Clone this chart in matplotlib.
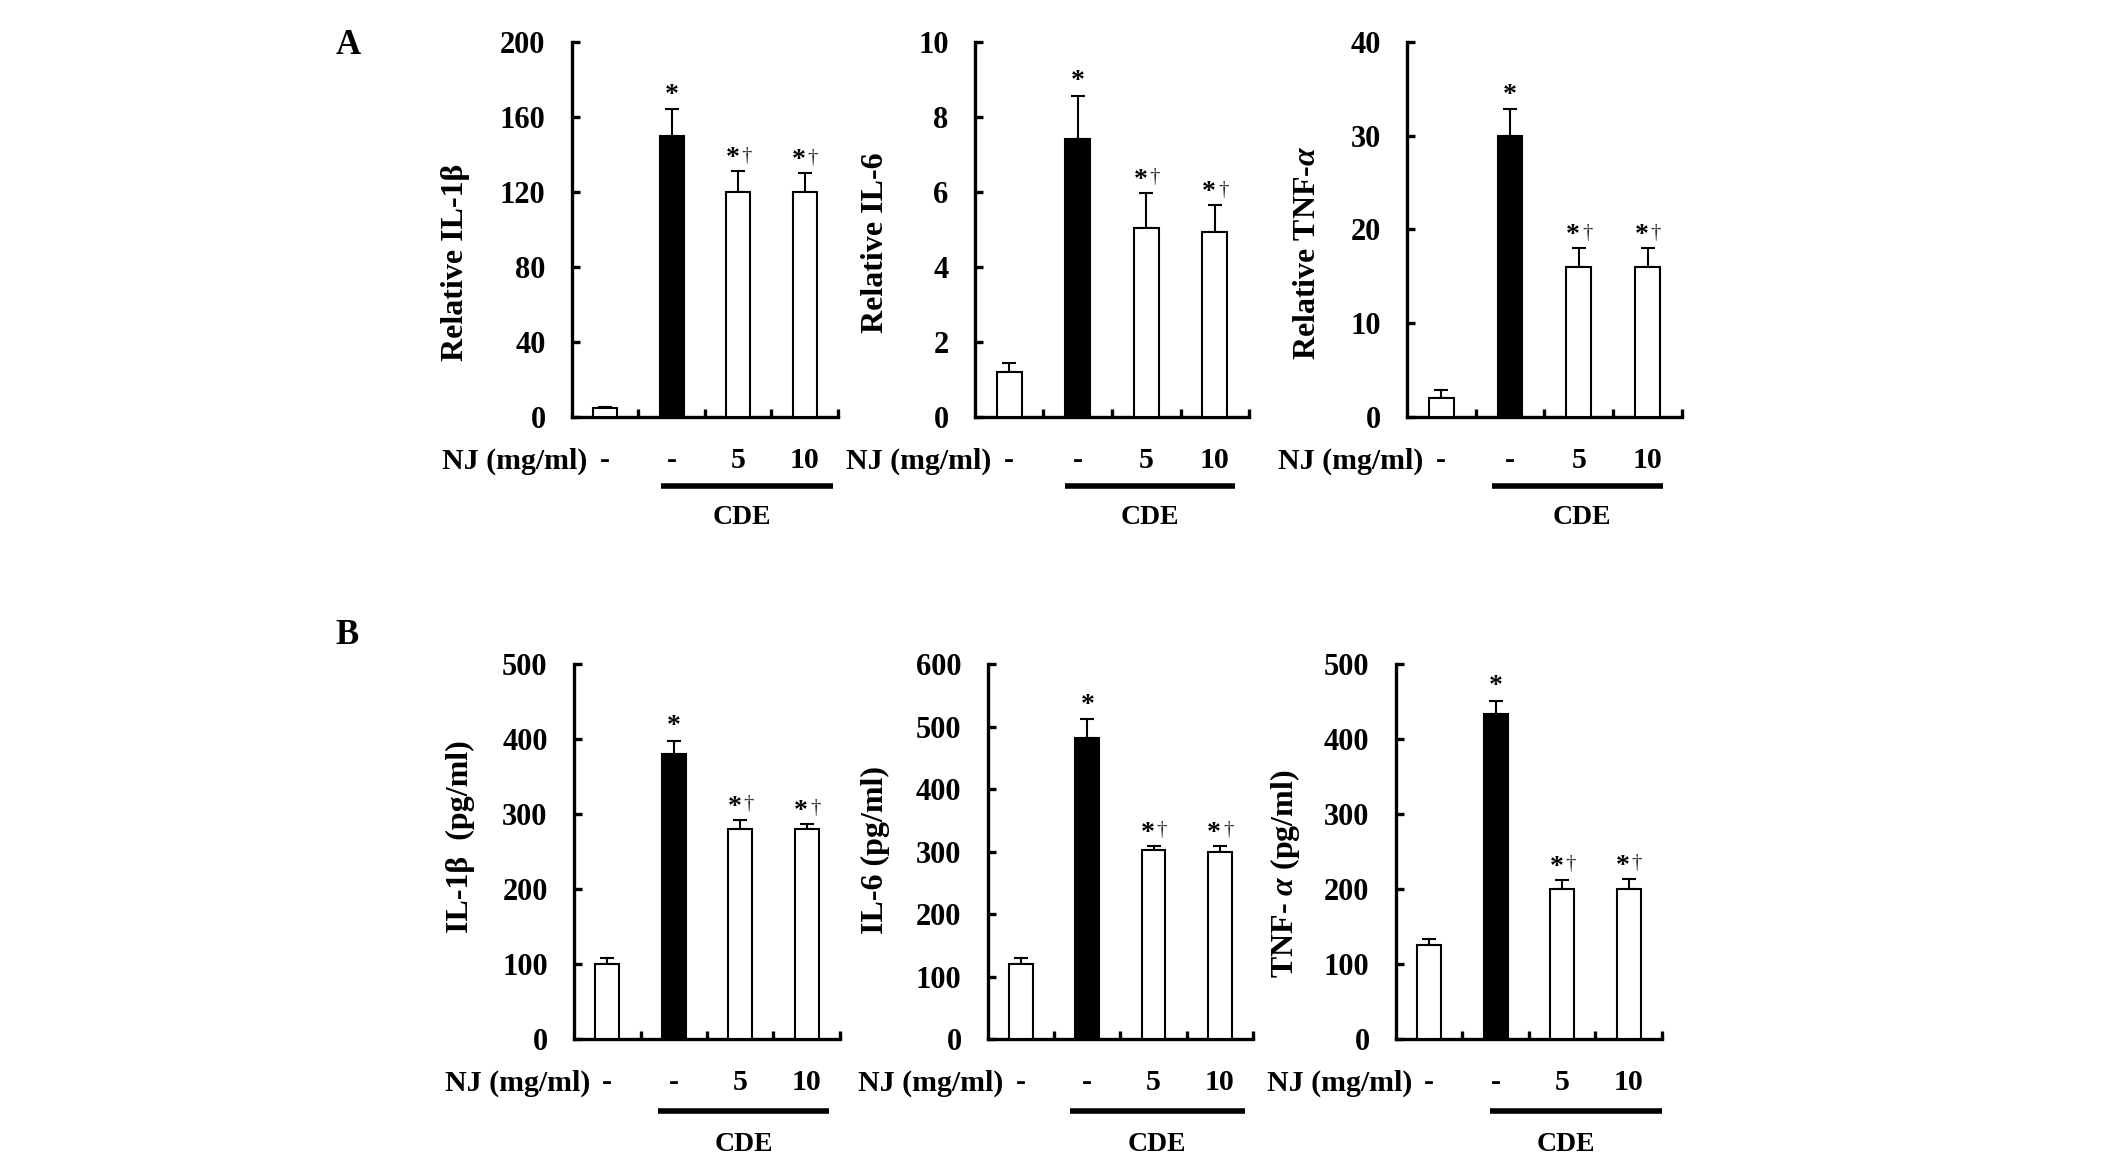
import matplotlib
matplotlib.use('Agg')
import matplotlib.pyplot as plt
import numpy as np

plt.rcParams['font.family'] = ['Liberation Serif', 'DejaVu Serif']
plt.rcParams['font.weight'] = 'bold'
plt.rcParams['mathtext.fontset'] = 'custom'
plt.rcParams['mathtext.rm'] = 'Liberation Serif:bold'
plt.rcParams['mathtext.it'] = 'Liberation Serif:italic:bold'

#Data
nj_labels = ['-', '-', '5', '10']
bar_colors = ['white', 'black', 'white', 'white']

il1b_rel = [5, 150, 120, 120]
il1b_rel_err = [0.5, 14, 11, 10]
il6_rel = [1.2, 7.4, 5.05, 4.92]
il6_rel_err = [0.23, 1.17, 0.93, 0.72]
tnf_rel = [2, 30, 16, 16]
tnf_rel_err = [0.9, 2.8, 2, 2]

il1b_pg = [100, 380, 280, 280]
il1b_pg_err = [8.5, 18, 12, 7]
il6_pg = [120, 482, 303, 299]
il6_pg_err = [10, 30, 6, 10]
tnf_pg = [125, 433, 200, 200]
tnf_pg_err = [9, 18, 12, 14]

marks = ['', '*', '*†', '*†']

panels = [
    # values, errors, ylabel, ymax, step, axes rect, ylabel coords, CDE line span, row y's
    (il1b_rel, il1b_rel_err, 'Relative IL-1β', 200, 40, [0.2690, 0.6430, 0.1251, 0.3211], (-0.383, 0.413), (0.84, 3.42), (-0.117, -0.185, -0.267)),
    (il6_rel, il6_rel_err, 'Relative IL-6', 10, 2, [0.4586, 0.6430, 0.1289, 0.3211], (-0.31, 0.464), (0.81, 3.30), (-0.117, -0.185, -0.267)),
    (tnf_rel, tnf_rel_err, r'Relative TNF-$\alpha$', 40, 10, [0.6618, 0.6430, 0.1293, 0.3211], (-0.31, 0.437), (0.74, 3.22), (-0.117, -0.185, -0.267)),
    (il1b_pg, il1b_pg_err, 'IL-1β  (pg/ml)', 500, 100, [0.2700, 0.1104, 0.1251, 0.3211], (-0.372, 0.539), (0.76, 3.33), (-0.117, -0.192, -0.28)),
    (il6_pg, il6_pg_err, 'IL-6 (pg/ml)', 600, 100, [0.4647, 0.1104, 0.1246, 0.3211], (-0.37, 0.504), (0.74, 3.38), (-0.117, -0.192, -0.28)),
    (tnf_pg, tnf_pg_err, r'TNF- $\alpha$ (pg/ml)', 500, 100, [0.6566, 0.1104, 0.1251, 0.3211], (-0.353, 0.44), (0.91, 3.5), (-0.117, -0.192, -0.28)),
]

fig = plt.figure(figsize=(21.26, 11.68), dpi=100)
x = np.arange(len(nj_labels))

for vals, errs, ylabel, ymax, step, rect, lc, span, rows in panels:
    ax = fig.add_axes(rect)
    ax.bar(x, vals, 0.36, color=bar_colors, edgecolor='black', linewidth=1.5, zorder=3)
    ax.errorbar(x, vals, yerr=[np.zeros(len(vals)), errs], fmt='none', ecolor='black',
                elinewidth=1.5, capsize=5, capthick=1.5, zorder=2)
    ax.set_xlim(-0.5, 3.5)
    ax.set_ylim(0, ymax)
    ax.set_yticks(np.arange(0, ymax + step / 2, step))
    ax.set_xticks([0.5, 1.5, 2.5, 3.5])
    ax.set_xticklabels([])
    ax.tick_params(direction='in', width=2.4, length=6, labelsize=22, pad=19)
    ax.spines['top'].set_visible(False)
    ax.spines['right'].set_visible(False)
    ax.spines['left'].set_linewidth(2.4)
    ax.spines['bottom'].set_linewidth(2.4)
    ax.set_ylabel(ylabel, fontsize=23, fontweight='bold')
    ax.yaxis.set_label_coords(*lc)

    #significance marks
    for i, m in enumerate(marks):
        if not m:
            continue
        top = vals[i] + errs[i]
        if m == '*':
            ax.annotate('*', (x[i], top), xytext=(0, 1), textcoords='offset points',
                        ha='center', va='bottom', fontsize=20, fontweight='bold')
        else:
            ax.annotate('*', (x[i], top), xytext=(-4, 0), textcoords='offset points',
                        ha='center', va='bottom', fontsize=20, fontweight='bold')
            ax.annotate('†', (x[i], top), xytext=(6, 4), textcoords='offset points',
                        ha='center', va='bottom', fontsize=15, fontweight='normal', color='#333333')

    #NJ row and CDE bracket
    trans = ax.get_xaxis_transform()
    yrow, yline, ycde = rows
    ax.text(-0.26, yrow, 'NJ (mg/ml)', transform=trans, ha='right', va='center',
            fontsize=21.5, fontweight='bold', clip_on=False)
    for i, lab in enumerate(nj_labels):
        ax.text(x[i], yrow, lab, transform=trans, ha='center', va='center',
                fontsize=21.5, fontweight='bold', clip_on=False)
    ax.plot(span, [yline, yline], transform=trans, color='black', lw=4,
            clip_on=False, solid_capstyle='butt')
    ax.text(2.05, ycde, 'CDE', transform=trans, ha='center', va='center',
            fontsize=20, fontweight='bold', clip_on=False)

fig.text(348 / 2126, 1 - 45 / 1168, 'A', fontsize=25, fontweight='bold', ha='center', va='center')
fig.text(347 / 2126, 1 - 636 / 1168, 'B', fontsize=25, fontweight='bold', ha='center', va='center')

fig.savefig('out.png', dpi=100)
